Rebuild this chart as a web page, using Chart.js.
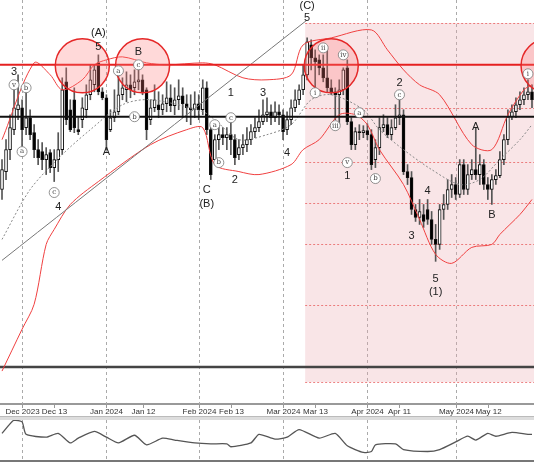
<!DOCTYPE html>
<html>
<head>
<meta charset="utf-8">
<script src="https://cdn.jsdelivr.net/npm/chart.js@4.4.1/dist/chart.umd.min.js"></script>
<style>
  body { margin: 0; background: #fff; overflow: hidden; }
  canvas { display: block; }
  #sep { height: 3px; background: #ddd; border-top: 1px solid #bbb; }
</style>
</head>
<body>
<canvas id="main" width="534" height="416"></canvas>
<div id="sep"></div>
<canvas id="osc" width="534" height="42"></canvas>
<script>
// trading days Nov 24 2023 .. May 2024 (weekdays)
const categories = [];
(function () {
    const d = new Date(Date.UTC(2023, 10, 24));
    while (categories.length < 133) {
        const wd = d.getUTCDay();
        if (wd !== 0 && wd !== 6) categories.push(d.toISOString().slice(0, 10));
        d.setUTCDate(d.getUTCDate() + 1);
    }
})();

// axis labels: [index, text]
const tickLabels = [[5, "Dec 2023"], [13, "Dec 13"], [26, "Jan 2024"], [35, "Jan 12"], [49, "Feb 2024"],
    [57, "Feb 13"], [70, "Mar 2024"], [78, "Mar 13"], [91, "Apr 2024"], [99, "Apr 11"], [113, "May 2024"], [121, "May 12"]];
const monthIdx = [5, 26, 49, 70, 91, 113];

const opens = [230,248,270,290,310,312,292,302,287,270,268,260,267,252,260,270,338,310,320,290,300,310,325,335,357,328,322,290,302,308,325,330,335,332,338,340,330,300,312,315,310,316,322,314,320,324,316,312,310,316,310,332,290,260,280,285,282,285,280,265,272,275,280,288,292,298,305,308,302,308,305,290,300,312,320,330,345,375,362,360,352,342,332,328,325,330,352,298,275,288,287,289,285,260,272,292,295,285,292,302,305,248,242,210,202,205,210,200,180,175,210,215,230,235,225,255,230,245,250,245,255,235,230,240,244,260,280,303,308,315,320,325,328];
const highs = [260,280,305,330,345,320,332,310,295,280,277,272,270,270,287,342,352,320,332,302,322,335,355,355,365,332,325,310,330,345,342,348,345,350,352,345,332,320,335,328,325,338,335,332,340,332,325,325,328,325,340,338,295,285,295,292,292,302,285,280,285,292,295,302,310,320,322,315,318,315,310,308,320,330,335,355,382,380,370,365,365,372,340,332,340,352,360,302,292,295,294,296,290,280,302,305,302,300,315,320,310,255,248,215,220,215,220,208,195,215,225,240,245,242,260,260,255,260,292,265,260,242,245,250,268,285,310,315,322,328,332,340,335];
const lows = [220,240,260,285,300,270,285,280,262,255,250,245,247,238,248,265,295,288,287,285,292,302,320,328,325,320,270,288,298,305,320,318,322,325,330,325,280,295,308,302,305,308,308,305,310,302,298,295,302,300,305,285,240,255,270,275,270,265,255,260,265,268,275,282,288,295,298,295,298,295,280,285,295,308,315,325,340,350,330,345,338,328,325,300,295,325,295,270,270,280,282,280,250,252,265,288,282,280,290,295,245,235,205,198,195,192,195,175,158,170,200,210,222,220,222,225,225,240,240,235,230,220,215,235,242,255,275,300,302,310,315,320,312];
const closes = [250,270,292,312,315,290,302,285,270,262,260,265,252,260,270,330,300,290,292,288,312,325,340,350,328,322,280,302,308,325,332,335,330,338,340,328,290,312,320,310,316,322,314,320,324,316,312,310,316,310,332,290,245,280,285,282,285,280,262,272,275,280,288,292,298,305,308,302,308,305,288,300,312,320,330,345,378,362,358,352,342,332,328,325,330,350,298,275,288,287,289,285,255,272,292,295,285,292,302,305,248,242,210,202,208,198,200,180,175,210,215,230,235,225,255,230,245,250,245,255,235,230,240,244,260,280,303,308,315,320,325,328,320];

// Bollinger bands: [index, value]
const bandUpper = [[0,280],[8,357],[12,345],[15,330],[20,340],[23,355],[26,360],[30,363],[36,357],[41,355],[50,357],[53,355],[60,342],[66,340],[72,345],[75,375],[82,382],[92,390],[96,370],[100,350],[104,335],[109,325],[117,275],[122,270],[126,305],[130,330],[132,335]];
const bandLower = [[0,48],[5,90],[8,115],[11,175],[13,190],[17,215],[24,238],[37,275],[46,290],[50,292],[53,255],[59,248],[64,245],[72,255],[75,270],[79,280],[84,305],[88,305],[91,295],[94,270],[100,235],[104,200],[108,165],[112,156],[117,172],[122,175],[124,185],[129,205],[132,220]];
const bandMid = [[0,180],[7,230],[15,265],[22,290],[30,315],[37,320],[50,308],[53,300],[59,280],[66,285],[72,295],[77,320],[82,325],[90,310],[94,290],[100,270],[107,250],[114,235],[119,240],[124,260],[129,280],[132,295]];
const trendLine = [[0,159],[76,400]];

const resistance = 355, pivot = 303, support = 52;
const fibLevels = [397, 312, 258, 216, 175, 114, 37];
const boxStart = 76;
const circles = [[20, 354], [35, 354], [82, 354], [136, 354]];

// wave labels: [index, value, text, circled]
const waveLabels = [
    [3,348,"3",0],[3,335,"v",1],[5,268,"a",1],[6,332,"b",1],[13,227,"c",1],[14,213,"4",0],
    [24,387,"(A)",0],[24,373,"5",0],[26,268,"A",0],[29,349,"a",1],[34,368,"B",0],[34,355,"c",1],[33,303,"b",1],
    [51,230,"C",0],[51,216,"(B)",0],[53,295,"a",1],[54,257,"b",1],[57,327,"1",0],[57,302,"c",1],[58,240,"2",0],
    [65,327,"3",0],[71,267,"4",0],[76,414,"(C)",0],[76,402,"5",0],[78,327,"i",1],[80,372,"ii",1],[83,294,"iii",1],
    [85,365,"iv",1],[89,307,"a",1],[86,257,"v",1],[86,244,"1",0],[93,241,"b",1],[99,337,"2",0],[99,325,"c",1],
    [106,229,"4",0],[102,183,"3",0],[108,140,"5",0],[108,127,"(1)",0],[118,293,"A",0],[122,205,"B",0],[131,346,"i",1]
];

const oscValues = [[0,30],[3,44],[5,42],[6,29],[11,26],[14,30],[17,20],[19,25],[23,32],[26,26],[29,20],[33,28],[36,18],[40,25],[43,23],[48,20],[52,19],[56,19],[57,16],[62,20],[64,29],[68,24],[71,26],[74,34],[79,25],[83,30],[86,17],[90,10],[92,11],[93,18],[98,19],[100,13],[106,11],[109,13],[113,21],[116,27],[118,23],[121,30],[123,27],[127,31],[131,29],[132,29]];

const pts = arr => arr.map(p => ({ x: categories[p[0]], y: p[1] }));
const up = opens.map((o, i) => closes[i] >= o);

function hline(ctx, area, y, color, width, dash) {
    ctx.save();
    ctx.strokeStyle = color; ctx.lineWidth = width; ctx.setLineDash(dash || []);
    ctx.beginPath(); ctx.moveTo(area.left, y); ctx.lineTo(area.right, y); ctx.stroke();
    ctx.restore();
}

function monthLines(chart) {
    const ctx = chart.ctx, a = chart.chartArea, xs = chart.scales.x;
    ctx.save();
    ctx.strokeStyle = "#aaa"; ctx.lineWidth = 1; ctx.setLineDash([3, 3]);
    monthIdx.forEach(i => {
        const x = Math.round(xs.getPixelForValue(i)) + 0.5;
        ctx.beginPath(); ctx.moveTo(x, a.top); ctx.lineTo(x, a.bottom); ctx.stroke();
    });
    ctx.restore();
}

const backdrop = {
    id: "backdrop",
    beforeDatasetsDraw(chart) {
        const ctx = chart.ctx, a = chart.chartArea, xs = chart.scales.x, ys = chart.scales.y;
        monthLines(chart);
        const bx = xs.getPixelForValue(boxStart) - 2;
        const top = ys.getPixelForValue(fibLevels[0]), bot = ys.getPixelForValue(fibLevels[fibLevels.length - 1]);
        ctx.save();
        ctx.fillStyle = "rgba(235,170,175,0.3)";
        ctx.fillRect(bx, top, a.right - bx, bot - top);
        ctx.strokeStyle = "rgba(230,80,80,0.7)"; ctx.lineWidth = 1; ctx.setLineDash([2, 2]);
        fibLevels.forEach(v => {
            const y = Math.round(ys.getPixelForValue(v)) + 0.5;
            ctx.beginPath(); ctx.moveTo(bx, y); ctx.lineTo(a.right, y); ctx.stroke();
        });
        ctx.restore();
        hline(ctx, a, ys.getPixelForValue(support), "#444", 2.5);
        // axis labels and tick marks
        ctx.save();
        ctx.fillStyle = "#333"; ctx.strokeStyle = "#999"; ctx.lineWidth = 1;
        ctx.font = "8px 'Liberation Sans'"; ctx.textAlign = "center"; ctx.textBaseline = "top";
        tickLabels.forEach(t => {
            const x = Math.round(xs.getPixelForValue(t[0])) + 0.5;
            ctx.beginPath(); ctx.moveTo(x, a.bottom); ctx.lineTo(x, a.bottom + 4); ctx.stroke();
            ctx.fillText(t[1], x, a.bottom + 4);
        });
        ctx.restore();
    },
    afterDatasetsDraw(chart) {
        const ctx = chart.ctx, a = chart.chartArea, xs = chart.scales.x, ys = chart.scales.y;
        hline(ctx, a, ys.getPixelForValue(pivot), "#111", 2);
        hline(ctx, a, ys.getPixelForValue(resistance), "#e52020", 2);
        const step = xs.getPixelForValue(1) - xs.getPixelForValue(0);
        ctx.save();
        circles.forEach(c => {
            ctx.beginPath();
            ctx.arc(xs.getPixelForValue(0) + c[0] * step, ys.getPixelForValue(c[1]), 27, 0, Math.PI * 2);
            ctx.fillStyle = "rgba(255,120,120,0.28)"; ctx.fill();
            ctx.strokeStyle = "#e52828"; ctx.lineWidth = 1.5; ctx.stroke();
        });
        ctx.textAlign = "center"; ctx.textBaseline = "middle";
        waveLabels.forEach(l => {
            const x = xs.getPixelForValue(l[0]), y = ys.getPixelForValue(l[1]);
            if (l[3]) {
                ctx.beginPath(); ctx.arc(x, y, 5, 0, Math.PI * 2);
                ctx.fillStyle = "#fff"; ctx.fill();
                ctx.strokeStyle = "#777"; ctx.lineWidth = 0.8; ctx.stroke();
                ctx.fillStyle = "#444"; ctx.font = "7px 'DejaVu Serif'";
                ctx.fillText(l[2], x, y);
            } else {
                ctx.fillStyle = "#222"; ctx.font = "11px 'Liberation Sans'";
                ctx.fillText(l[2], x, y);
            }
        });
        ctx.restore();
    }
};

const lineStyle = (data, color, width, dash) => ({
    type: "line", data: pts(data), borderColor: color, borderWidth: width, borderDash: dash || [],
    pointRadius: 0, tension: 0.3, fill: false
});

new Chart(document.getElementById("main"), {
    type: "bar",
    data: {
        labels: categories,
        datasets: [
            lineStyle(trendLine, "#777", 1),
            {
                data: lows.map((l, i) => [l, highs[i]]), backgroundColor: "#555",
                barThickness: 1, grouped: false, order: 3
            },
            {
                data: opens.map((o, i) => [o, closes[i]]),
                backgroundColor: up.map(u => u ? "#fff" : "#000"), borderColor: "#111", borderWidth: 1,
                borderSkipped: false, barThickness: 3, grouped: false, order: 2
            },
            lineStyle(bandUpper, "#f04040", 1),
            lineStyle(bandLower, "#f04040", 1),
            lineStyle(bandMid, "#888", 1, [2, 2])
        ]
    },
    options: {
        responsive: false, animation: false,
        layout: { padding: 0 },
        plugins: { legend: { display: false }, tooltip: { enabled: false } },
        scales: {
            x: {
                offset: true,
                grid: { display: false },
                border: { color: "#999", width: 2 },
                afterFit: s => { s.height = 12; },
                ticks: { display: false }
            },
            y: { display: false, min: 15, max: 420 }
        }
    },
    plugins: [backdrop]
});

new Chart(document.getElementById("osc"), {
    type: "line",
    data: {
        labels: categories,
        datasets: [{ data: pts(oscValues), borderColor: "#555", borderWidth: 1.3, pointRadius: 0, tension: 0.2 }]
    },
    options: {
        responsive: false, animation: false,
        layout: { padding: 0 },
        plugins: { legend: { display: false }, tooltip: { enabled: false } },
        scales: {
            x: { display: false, offset: true },
            y: { display: false, min: 0, max: 44 }
        }
    },
    plugins: [{ id: "osclines", beforeDatasetsDraw: monthLines,
        afterDraw(chart) { hline(chart.ctx, { left: 0, right: 534 }, chart.height - 1, "#777", 2); } }]
});
</script>
</body>
</html>
